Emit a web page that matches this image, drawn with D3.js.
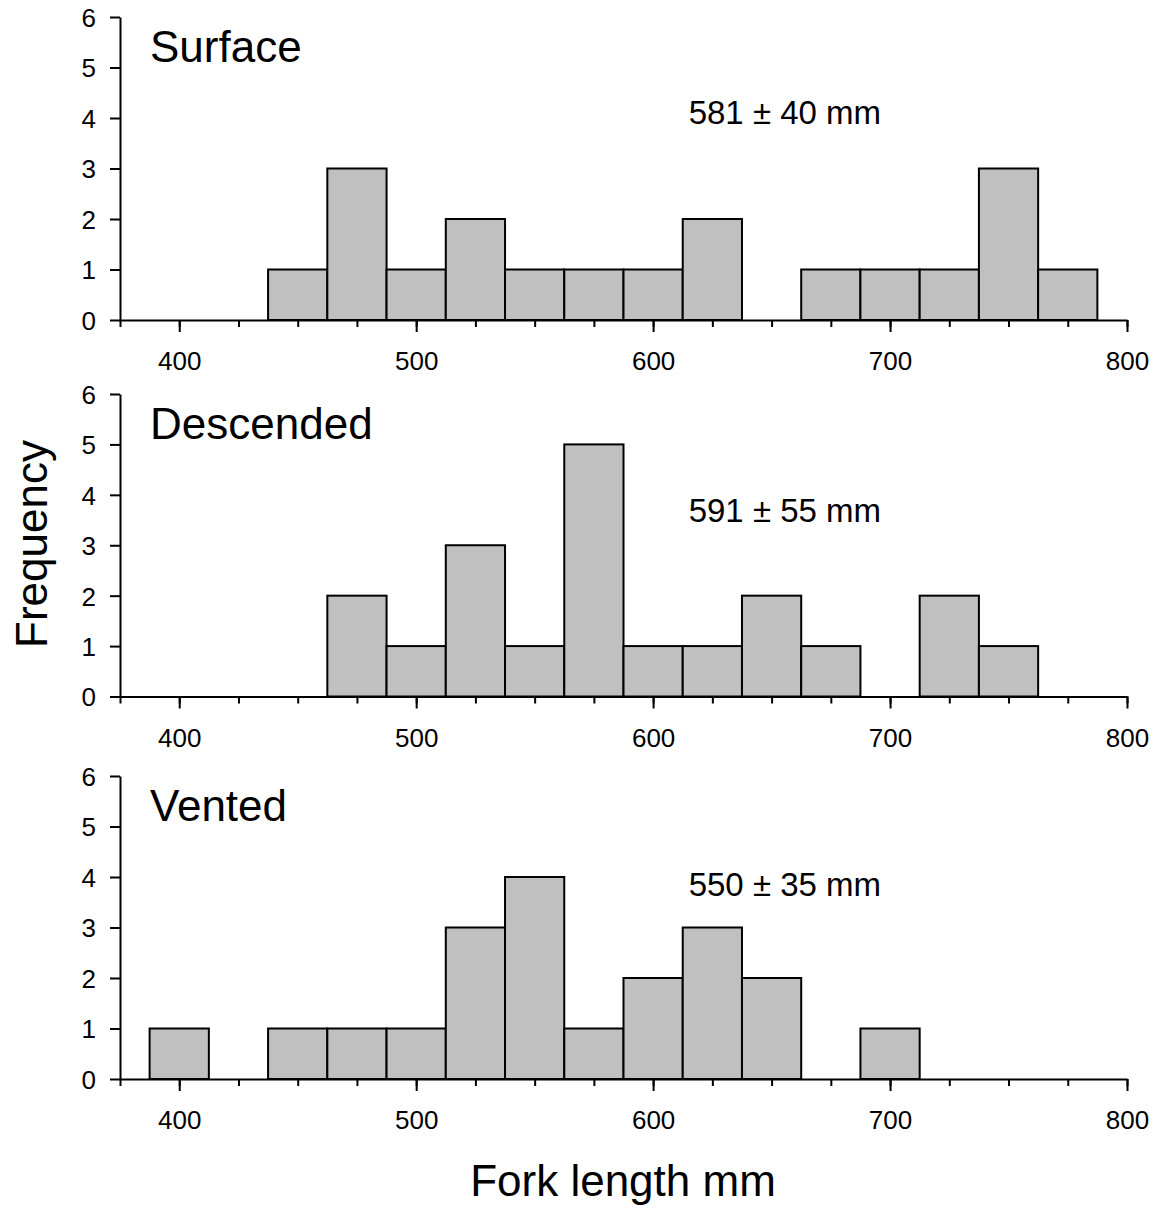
<!DOCTYPE html>
<html>
<head>
<meta charset="utf-8">
<script src="https://cdn.jsdelivr.net/npm/d3@7"></script>
<style>
  html, body { margin: 0; padding: 0; background: #fff; }
  svg { display: block; font-family: "Liberation Sans", Arial, sans-serif; }
</style>
</head>
<body>
<svg id="chart" width="1155" height="1208"></svg>
<script>
// ---- Data ----
const binCenters = [400, 425, 450, 475, 500, 525, 550, 575, 600, 625, 650, 675, 700, 725, 750, 775];
const surfaceCounts   = [0, 0, 1, 3, 1, 2, 1, 1, 1, 2, 0, 1, 1, 1, 3, 1];
const descendedCounts = [0, 0, 0, 2, 1, 3, 1, 5, 1, 1, 2, 1, 0, 2, 1, 0];
const ventedCounts    = [1, 0, 1, 1, 1, 3, 4, 1, 2, 3, 2, 0, 1, 0, 0, 0];
const panelNames = ["Surface", "Descended", "Vented"];
const panelStats = ["581 ± 40 mm", "591 ± 55 mm", "550 ± 35 mm"];
const xTickLabels = [400, 500, 600, 700, 800];
const yTickLabels = [0, 1, 2, 3, 4, 5, 6];
const binWidth = 25;

// ---- Layout ----
const svg = d3.select("#chart");
const x = d3.scaleLinear().domain([375, 800]).range([120, 1127]);
const panels = [
  { counts: surfaceCounts,   top: 17,  bottom: 320, statX: 615, statY: 4.12 },
  { counts: descendedCounts, top: 394, bottom: 696.5, statX: 615, statY: 3.70 },
  { counts: ventedCounts,    top: 776, bottom: 1079, statX: 615, statY: 3.86 }
];
const minorTicks = d3.range(375, 801, 25);

panels.forEach((p, i) => {
  const y = d3.scaleLinear().domain([0, 6]).range([p.bottom, p.top]);
  const g = svg.append("g");

  // bars
  const bins = binCenters.map((c, k) => ({ c, n: p.counts[k] })).filter(d => d.n > 0);
  g.selectAll("rect.bar").data(bins).enter().append("rect")
    .attr("class", "bar")
    .attr("x", d => x(d.c - binWidth / 2))
    .attr("width", d => x(d.c + binWidth / 2) - x(d.c - binWidth / 2))
    .attr("y", d => y(d.n))
    .attr("height", d => y(0) - y(d.n))
    .attr("fill", "#c0c0c0")
    .attr("stroke", "#000")
    .attr("stroke-width", 2);

  // x axis minor ticks
  const xMinor = g.append("g").attr("transform", `translate(0,${p.bottom})`)
    .call(d3.axisBottom(x).tickValues(minorTicks).tickSize(7).tickSizeOuter(0).tickFormat(""));
  xMinor.select(".domain").attr("stroke-width", 2).attr("stroke", "#000");
  xMinor.selectAll(".tick line").attr("stroke-width", 2).attr("stroke", "#000");

  // x axis major ticks + labels
  const xMajor = g.append("g").attr("transform", `translate(0,${p.bottom})`)
    .call(d3.axisBottom(x).tickValues(xTickLabels).tickSize(12).tickSizeOuter(0).tickFormat(d3.format("d")));
  xMajor.select(".domain").remove();
  xMajor.selectAll(".tick line").attr("stroke-width", 2).attr("stroke", "#000");
  xMajor.selectAll(".tick text")
    .attr("y", 50).attr("dy", null)
    .attr("font-size", 26).attr("fill", "#000")
    .attr("font-family", "Liberation Sans, Arial, sans-serif");

  // y axis
  const yAx = g.append("g").attr("transform", `translate(120,0)`)
    .call(d3.axisLeft(y).tickValues(yTickLabels).tickSize(10).tickSizeOuter(0).tickFormat(d3.format("d")));
  yAx.select(".domain").attr("stroke-width", 2).attr("stroke", "#000");
  yAx.selectAll(".tick line").attr("stroke-width", 2).attr("stroke", "#000");
  yAx.selectAll(".tick text")
    .attr("x", -24).attr("dy", "0.36em")
    .attr("font-size", 26).attr("fill", "#000")
    .attr("font-family", "Liberation Sans, Arial, sans-serif");

  // panel title
  g.append("text")
    .attr("x", 150).attr("y", p.top + 45)
    .attr("font-size", 44).attr("fill", "#000")
    .text(panelNames[i]);

  // stat annotation
  g.append("text")
    .attr("x", x(p.statX)).attr("y", y(p.statY))
    .attr("dy", "0.36em")
    .attr("font-size", 33).attr("fill", "#000")
    .text(panelStats[i]);
});

// axis titles
svg.append("text")
  .attr("transform", "translate(47,544) rotate(-90)")
  .attr("text-anchor", "middle")
  .attr("font-size", 44).attr("fill", "#000")
  .text("Frequency");

svg.append("text")
  .attr("x", 623).attr("y", 1196)
  .attr("text-anchor", "middle")
  .attr("font-size", 44).attr("fill", "#000")
  .text("Fork length mm");
</script>
</body>
</html>
